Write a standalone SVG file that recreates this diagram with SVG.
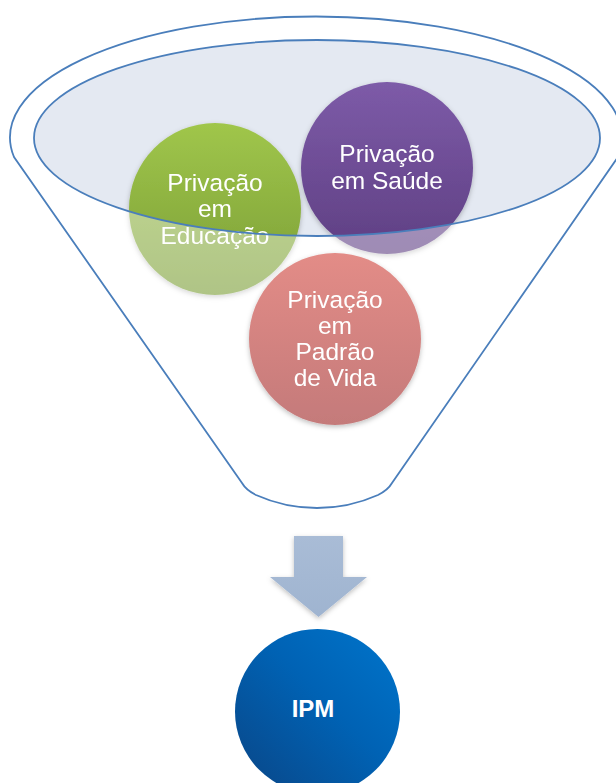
<svg xmlns="http://www.w3.org/2000/svg" width="616" height="783" viewBox="0 0 616 783">
<style>
.lbl{font-family:"Liberation Sans",Arial,sans-serif;font-size:24.5px;fill:#ffffff;text-anchor:middle}
.ipm{font-family:"Liberation Sans",Arial,sans-serif;font-size:24px;font-weight:bold;fill:#ffffff;text-anchor:middle}
.outline{fill:none;stroke:#4a7ebb;stroke-width:1.8}
</style>
<defs>
<linearGradient id="gGreen" x1="0" y1="0" x2="0" y2="1"><stop offset="0" stop-color="#a0c64b"/><stop offset="1" stop-color="#7a9d36"/></linearGradient>
<linearGradient id="gPurple" x1="0" y1="0" x2="0" y2="1"><stop offset="0" stop-color="#7d5ba8"/><stop offset="1" stop-color="#5f3f83"/></linearGradient>
<linearGradient id="gRed" x1="0" y1="0" x2="0" y2="1"><stop offset="0" stop-color="#e38c87"/><stop offset="1" stop-color="#c47a7a"/></linearGradient>
<linearGradient id="gBlue" x1="0" y1="1" x2="1" y2="0"><stop offset="0" stop-color="#0a4585"/><stop offset="0.55" stop-color="#0062b4"/><stop offset="1" stop-color="#0075cc"/></linearGradient>
<linearGradient id="gArrow" x1="0" y1="0" x2="0" y2="1"><stop offset="0" stop-color="#a9bcd6"/><stop offset="1" stop-color="#9fb4d0"/></linearGradient>
<filter id="sh" x="-20%" y="-20%" width="140%" height="140%"><feDropShadow dx="0" dy="2" stdDeviation="2.5" flood-color="#000" flood-opacity="0.25"/></filter>
</defs>

<g id="funnel-interior">
<ellipse cx="317" cy="138" rx="283" ry="98" fill="#e4e9f2"/>
</g>

<g id="node-educacao" filter="url(#sh)">
<circle cx="215" cy="209" r="86" fill="url(#gGreen)"/>
<text class="lbl" x="215" y="191">Privação</text>
<text class="lbl" x="215" y="217">em</text>
<text class="lbl" x="215" y="244">Educação</text>
</g>

<g id="node-saude" filter="url(#sh)">
<circle cx="387" cy="168" r="86" fill="url(#gPurple)"/>
<text class="lbl" x="387" y="162">Privação</text>
<text class="lbl" x="387" y="189">em Saúde</text>
</g>

<g id="funnel-overlay">
<path fill="#ffffff" fill-opacity="0.4" fill-rule="evenodd" d="M14,157 A306,121 0 1,1 618,157 L392,483 Q388,490 378,495 Q349,508 317,508 Q285,508 256,495 Q246,490 242,483 Z M34,138 A283,98 0 1,0 600,138 A283,98 0 1,0 34,138 Z"/>
</g>

<g id="node-padrao" filter="url(#sh)">
<circle cx="335" cy="339" r="86" fill="url(#gRed)"/>
<text class="lbl" x="335" y="308">Privação</text>
<text class="lbl" x="335" y="334">em</text>
<text class="lbl" x="335" y="360">Padrão</text>
<text class="lbl" x="335" y="386">de Vida</text>
</g>

<g id="funnel">
<path class="outline" d="M14,157 A306,121 0 1,1 618,157 L392,483 Q388,490 378,495 Q349,508 317,508 Q285,508 256,495 Q246,490 242,483 Z"/>
<ellipse class="outline" cx="317" cy="138" rx="283" ry="98"/>
</g>

<g id="connectors">
<path filter="url(#sh)" fill="url(#gArrow)" d="M294,536 L343,536 L343,577 L367,577 L318.5,617 L270,577 L294,577 Z"/>
</g>

<g id="node-ipm">
<circle cx="317.5" cy="711.5" r="82.5" fill="url(#gBlue)"/>
<text class="ipm" x="313" y="717">IPM</text>
</g>
</svg>
